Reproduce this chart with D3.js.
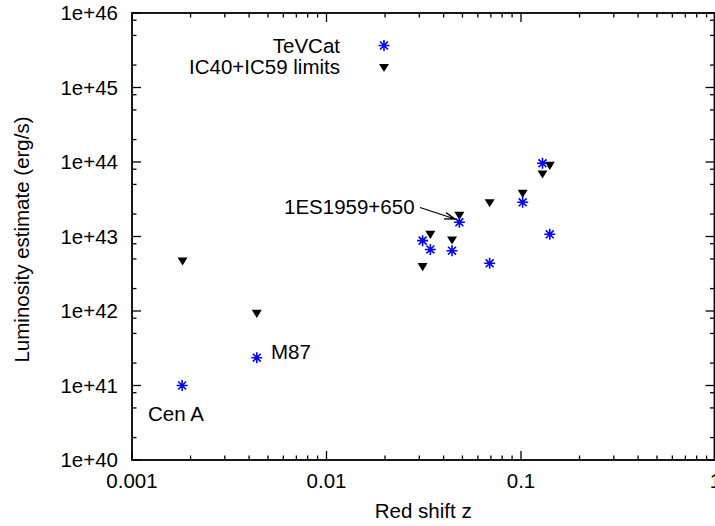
<!DOCTYPE html>
<html>
<head>
<meta charset="utf-8">
<script src="https://cdn.jsdelivr.net/npm/d3@7"></script>
<style>
  body { margin: 0; background: #fff; }
  text { font-family: "Liberation Sans", Arial, Helvetica, sans-serif; fill: #000; }
</style>
</head>
<body>
<div id="chart"></div>
<script>
// red shift vs luminosity, log-log
// TeVCat sources (blue stars)
var tevZ = [0.00181, 0.00438, 0.0312, 0.0342, 0.0442, 0.0482, 0.069, 0.102, 0.129, 0.1406];
var tevL = [1.0e41, 2.36e41, 8.8e42, 6.7e42, 6.45e42, 1.55e43, 4.37e42, 2.88e43, 9.6e43, 1.07e43];

// IC40+IC59 upper limits (black triangles)
var limZ = [0.00182, 0.00438, 0.0312, 0.0342, 0.0442, 0.0482, 0.069, 0.102, 0.129, 0.1406];
var limL = [4.69e42, 9.3e41, 3.93e42, 1.07e43, 8.97e42, 1.92e43, 2.84e43, 3.8e43, 6.9e43, 9.0e43];

var xTicks = [0.001, 0.01, 0.1, 1];
var xTickLabels = ["0.001", "0.01", "0.1", "1"];
var yTicks = [1e40, 1e41, 1e42, 1e43, 1e44, 1e45, 1e46];
var yTickLabels = ["1e+40", "1e+41", "1e+42", "1e+43", "1e+44", "1e+45", "1e+46"];

var svgWidth = 715;
var svgHeight = 526;

var margin = { top: 13, right: 0, bottom: 66, left: 132 };
var plotRight = 715.5;
var chartWidth = plotRight - margin.left;
var chartHeight = svgHeight - margin.top - margin.bottom;

var svg = d3.select("#chart")
  .append("svg")
  .attr("width", svgWidth)
  .attr("height", svgHeight);

var x = d3.scaleLog().domain([0.001, 1]).range([margin.left, plotRight]);
var y = d3.scaleLog().domain([1e40, 1e46]).range([margin.top + chartHeight, margin.top]);

var fontSize = 20.5;

// minor tick values
var xMinor = [];
[0.001, 0.01, 0.1].forEach(function(d) {
  for (var k = 2; k <= 9; k++) xMinor.push(d * k);
});
var yMinor = [];
for (var e = 40; e < 46; e++) {
  [2, 5, 8].forEach(function(k) { yMinor.push(k * Math.pow(10, e)); });
}

var axes = svg.append("g").attr("stroke", "#000").attr("stroke-width", 1.3);
var x0 = x(0.001), x1 = 714.5, y0 = y(1e40), y1 = y(1e46);

// ticks: bottom and top
xTicks.forEach(function(d) {
  axes.append("line").attr("x1", x(d)).attr("x2", x(d)).attr("y1", y0).attr("y2", y0 - 9);
  axes.append("line").attr("x1", x(d)).attr("x2", x(d)).attr("y1", y1).attr("y2", y1 + 9);
});
xMinor.forEach(function(d) {
  axes.append("line").attr("x1", x(d)).attr("x2", x(d)).attr("y1", y0).attr("y2", y0 - 4.5);
  axes.append("line").attr("x1", x(d)).attr("x2", x(d)).attr("y1", y1).attr("y2", y1 + 4.5);
});
// ticks: left and right
yTicks.forEach(function(d) {
  axes.append("line").attr("y1", y(d)).attr("y2", y(d)).attr("x1", x0).attr("x2", x0 + 9);
  axes.append("line").attr("y1", y(d)).attr("y2", y(d)).attr("x1", x1).attr("x2", x1 - 9);
});
yMinor.forEach(function(d) {
  axes.append("line").attr("y1", y(d)).attr("y2", y(d)).attr("x1", x0).attr("x2", x0 + 4.5);
  axes.append("line").attr("y1", y(d)).attr("y2", y(d)).attr("x1", x1).attr("x2", x1 - 4.5);
});

// frame
svg.append("rect")
  .attr("x", x0).attr("y", y1)
  .attr("width", x1 - x0).attr("height", y0 - y1)
  .attr("fill", "none").attr("stroke", "#000").attr("stroke-width", 1.8);

// tick labels
svg.selectAll(".xlab").data(xTicks).enter().append("text")
  .attr("x", d => x(d))
  .attr("y", 488)
  .attr("text-anchor", "middle")
  .style("font-size", fontSize + "px")
  .text((d, i) => xTickLabels[i]);

svg.selectAll(".ylab").data(yTicks).enter().append("text")
  .attr("x", 118)
  .attr("y", d => y(d))
  .attr("dy", "0.36em")
  .attr("text-anchor", "end")
  .style("font-size", fontSize + "px")
  .text((d, i) => yTickLabels[i]);

// axis titles
svg.append("text")
  .attr("x", (x0 + x1) / 2)
  .attr("y", 518)
  .attr("text-anchor", "middle")
  .style("font-size", fontSize + "px")
  .text("Red shift z");

svg.append("text")
  .attr("transform", "translate(29," + ((y0 + y1) / 2 + 3) + ") rotate(-90)")
  .attr("text-anchor", "middle")
  .style("font-size", fontSize + "px")
  .text("Luminosity estimate (erg/s)");

// marker shapes
function starPath(r) {
  var a = r * 0.72;
  return "M" + (-r) + ",0L" + r + ",0M0," + (-r) + "L0," + r +
         "M" + (-a) + "," + (-a) + "L" + a + "," + a +
         "M" + (-a) + "," + a + "L" + a + "," + (-a);
}
var triPath = "M-5,-3.6L5,-3.6L0,4.6Z";

var limData = limZ.map((z, i) => ({ z: z, l: limL[i] }));
var tevData = tevZ.map((z, i) => ({ z: z, l: tevL[i] }));

svg.selectAll(".lim").data(limData).enter().append("path")
  .attr("d", triPath)
  .attr("transform", d => "translate(" + x(d.z) + "," + y(d.l) + ")")
  .attr("fill", "#000");

svg.selectAll(".tev").data(tevData).enter().append("path")
  .attr("d", starPath(5.5))
  .attr("transform", d => "translate(" + x(d.z) + "," + y(d.l) + ")")
  .attr("stroke", "#0000ff")
  .attr("stroke-width", 1.6)
  .attr("fill", "none");

// legend
svg.append("text").attr("x", 340).attr("y", 53)
  .attr("text-anchor", "end").style("font-size", fontSize + "px").text("TeVCat");
svg.append("path").attr("d", starPath(5.5))
  .attr("transform", "translate(384,45.5)")
  .attr("stroke", "#0000ff").attr("stroke-width", 1.6).attr("fill", "none");
svg.append("text").attr("x", 340).attr("y", 74)
  .attr("text-anchor", "end").style("font-size", fontSize + "px").text("IC40+IC59 limits");
svg.append("path").attr("d", triPath)
  .attr("transform", "translate(384,67.5)").attr("fill", "#000");

// annotations
svg.append("text").attr("x", 148).attr("y", 421)
  .style("font-size", fontSize + "px").text("Cen A");
svg.append("text").attr("x", 271).attr("y", 359)
  .style("font-size", fontSize + "px").text("M87");
svg.append("text").attr("x", 284).attr("y", 214)
  .style("font-size", fontSize + "px").text("1ES1959+650");

// arrow to 1ES1959+650
var ax = 420, ay = 207.5, bx = 455, by = 219;
var ang = Math.atan2(by - ay, bx - ax);
var hl = 11, hw = 0.3;
svg.append("path")
  .attr("d", "M" + ax + "," + ay + "L" + bx + "," + by +
    "M" + (bx - hl * Math.cos(ang - hw)) + "," + (by - hl * Math.sin(ang - hw)) +
    "L" + bx + "," + by +
    "L" + (bx - hl * Math.cos(ang + hw)) + "," + (by - hl * Math.sin(ang + hw)))
  .attr("stroke", "#000").attr("stroke-width", 1.3).attr("fill", "none");
</script>
</body>
</html>
